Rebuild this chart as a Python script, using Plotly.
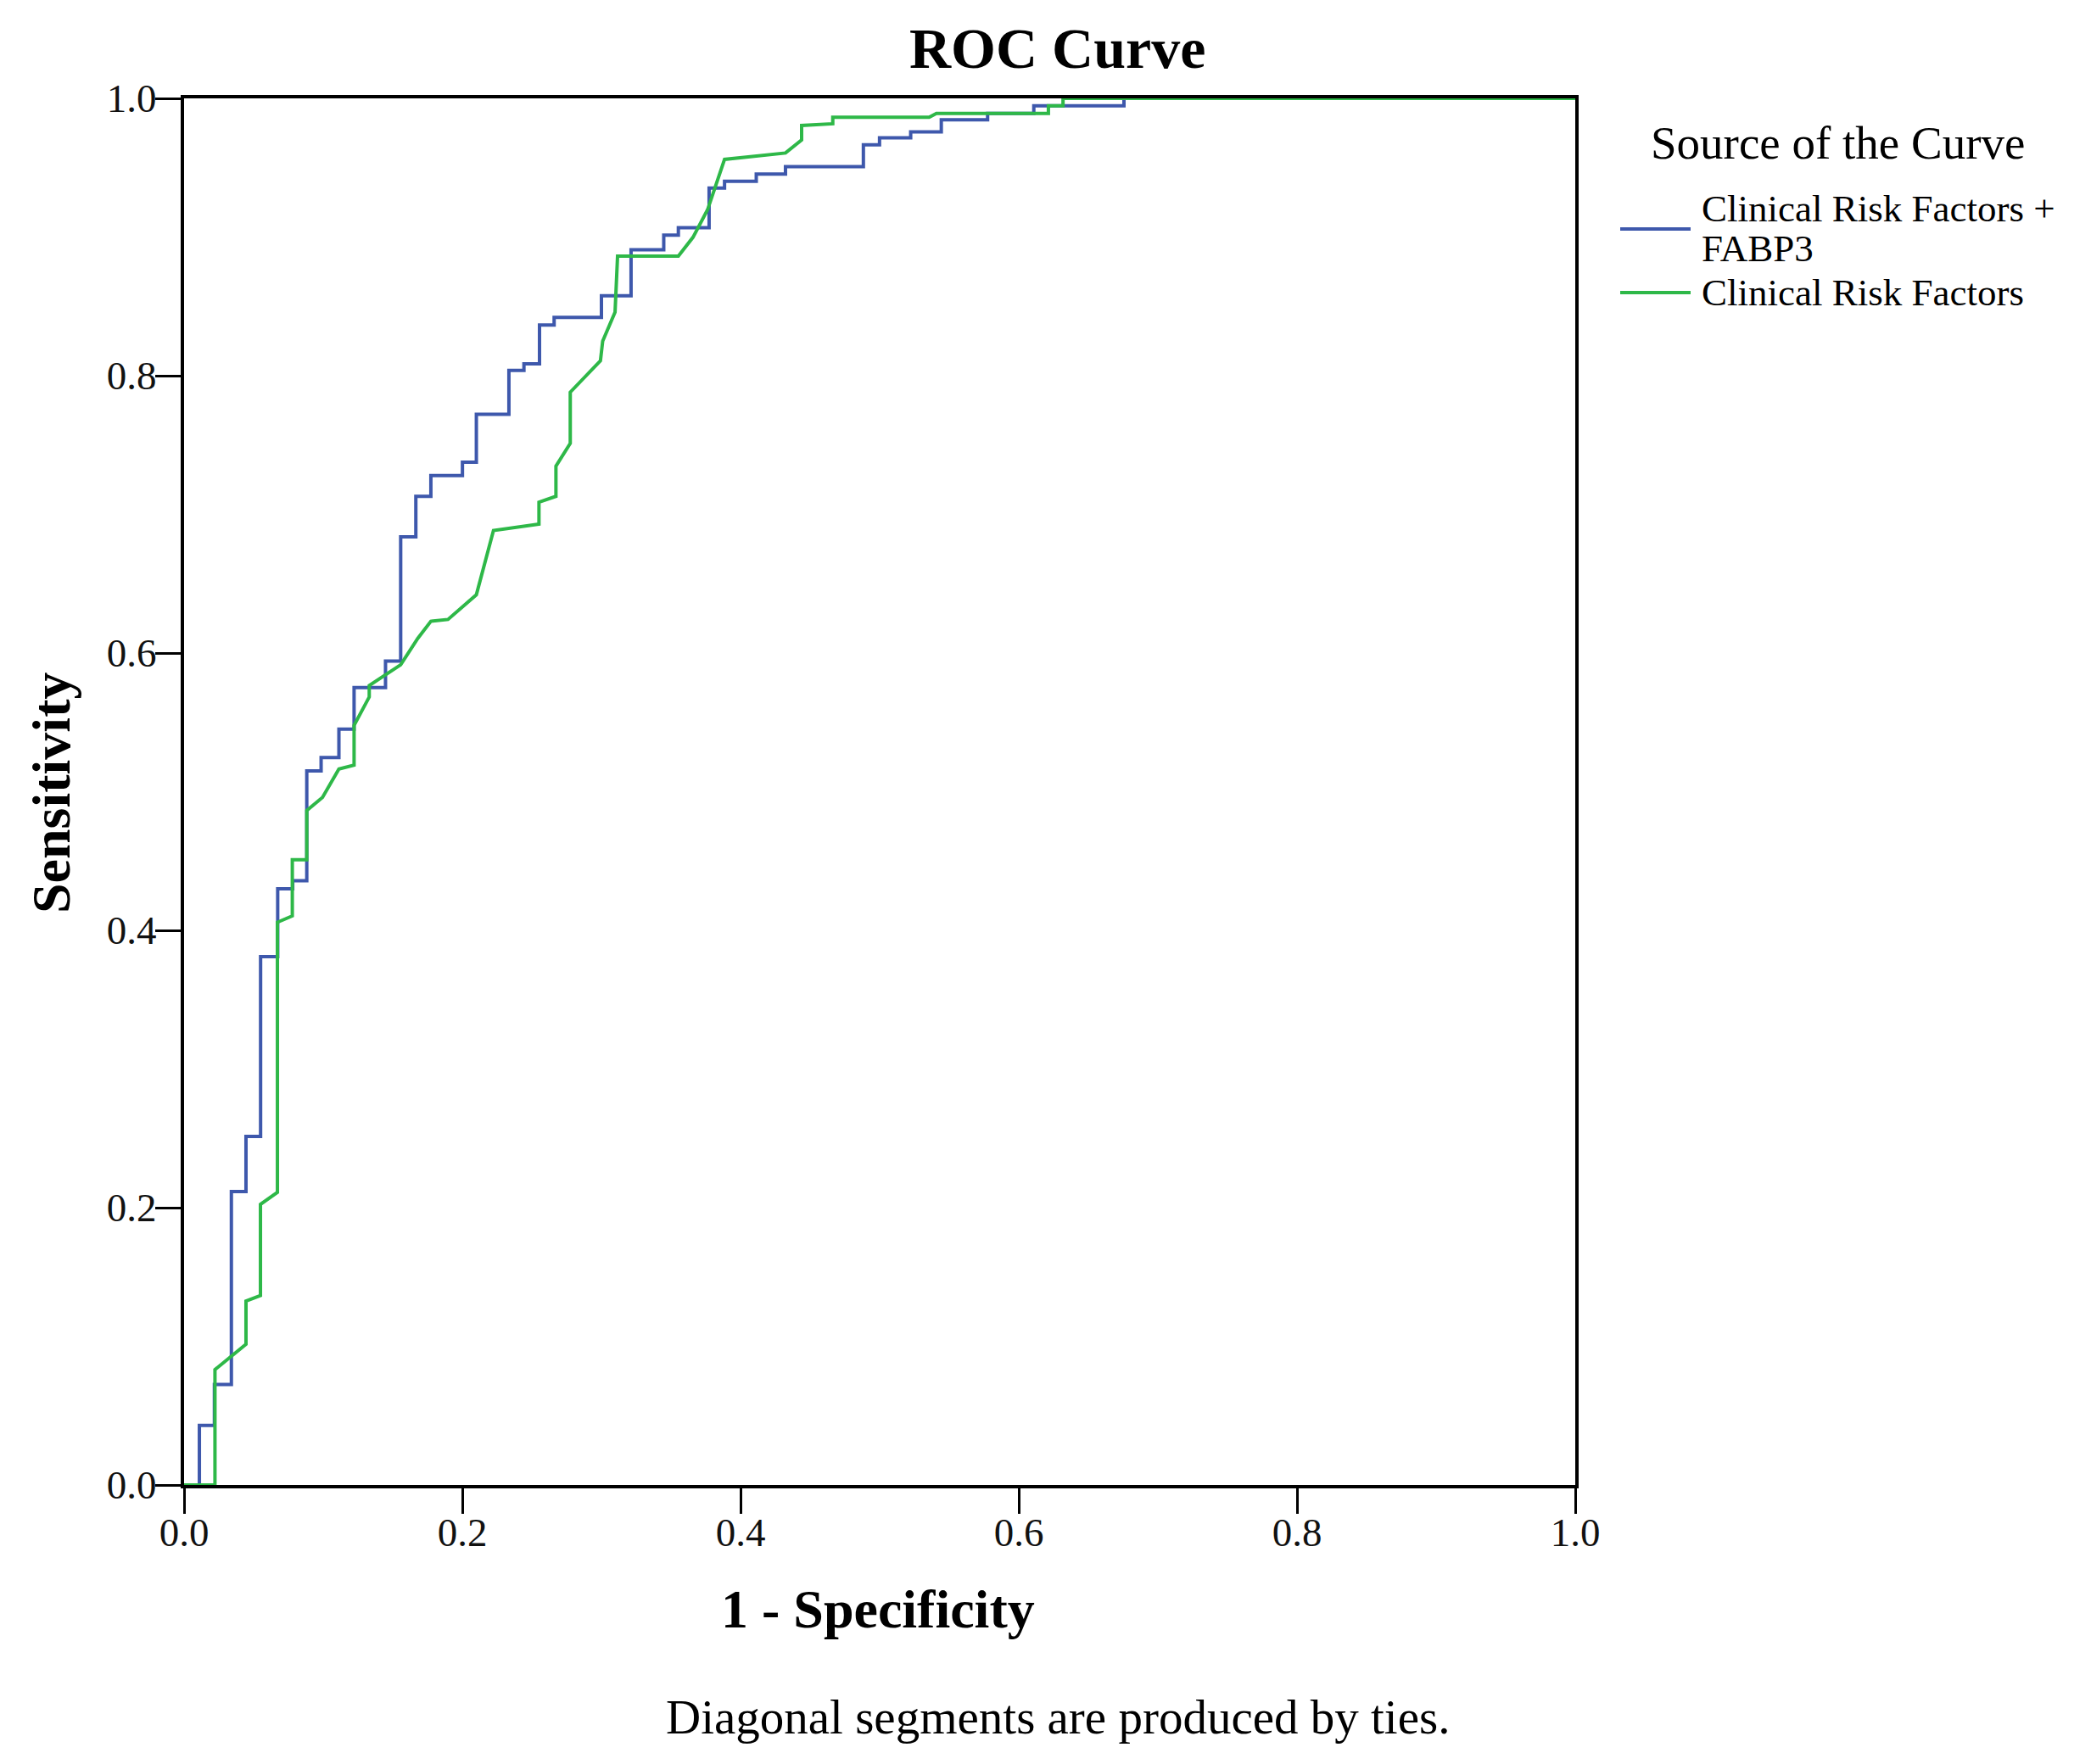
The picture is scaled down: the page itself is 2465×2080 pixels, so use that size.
import plotly.graph_objects as go

# ---- data ----
blue_name = "Clinical Risk Factors + FABP3"
blue_fpr = [0.0, 0.011, 0.0218, 0.034, 0.0445, 0.055, 0.0673, 0.0781, 0.0882, 0.0985,
            0.1113, 0.1222, 0.1448, 0.1557, 0.1666, 0.1774, 0.2001, 0.2101, 0.2335, 0.2443,
            0.2555, 0.2660, 0.3000, 0.3213, 0.3448, 0.3553, 0.3774, 0.3885, 0.4113, 0.4323,
            0.4883, 0.4999, 0.5223, 0.5443, 0.5776, 0.6108, 0.6756, 1.0]
blue_tpr = [0.0, 0.043, 0.0725, 0.2116, 0.2514, 0.381, 0.430, 0.4358, 0.515, 0.5246,
            0.5451, 0.5751, 0.5942, 0.6838, 0.7130, 0.7280, 0.7376, 0.7722, 0.8038, 0.8085,
            0.8366, 0.8420, 0.8576, 0.8909, 0.9014, 0.9068, 0.9353, 0.9402, 0.9454, 0.9508,
            0.9665, 0.9716, 0.9758, 0.9845, 0.9892, 0.9946, 1.0, 1.0]

green_name = "Clinical Risk Factors"
green_fpr = [0.0, 0.0222, 0.0222, 0.0445, 0.0445, 0.0549, 0.0549, 0.0671, 0.0671, 0.0778,
             0.0778, 0.0882, 0.0882, 0.0995, 0.1113, 0.1222, 0.1222, 0.1331, 0.1331, 0.1557,
             0.1680, 0.1774, 0.1897, 0.2101, 0.2224, 0.2551, 0.2551, 0.2673, 0.2673, 0.2776,
             0.2776, 0.2993, 0.3009, 0.3098, 0.3116, 0.3553, 0.3658, 0.3763, 0.3885, 0.4323,
             0.4439, 0.4439, 0.4663, 0.4663, 0.5356, 0.5408, 0.6213, 0.6213, 0.6318, 0.6318, 1.0]
green_tpr = [0.0, 0.0, 0.0832, 0.1015, 0.1327, 0.1367, 0.2024, 0.2110, 0.4058, 0.4104,
             0.4509, 0.4509, 0.4864, 0.4959, 0.5164, 0.5191, 0.5478, 0.5683, 0.5765, 0.5915,
             0.6106, 0.6229, 0.6242, 0.6420, 0.6884, 0.6930, 0.7088, 0.7130, 0.7348, 0.7512,
             0.7881, 0.8108, 0.8249, 0.8459, 0.8862, 0.8862, 0.8998, 0.9197, 0.9560, 0.9606,
             0.9700, 0.9805, 0.9817, 0.9864, 0.9864, 0.9892, 0.9892, 0.9946, 0.9946, 1.0, 1.0]

tick_vals = [0.0, 0.2, 0.4, 0.6, 0.8, 1.0]
tick_text = ["0.0", "0.2", "0.4", "0.6", "0.8", "1.0"]

BLUE = "#3E58AC"
GREEN = "#2EB848"
FONT = "Liberation Serif"

W, H = 2465, 2080
L, R, T, B = 217, 608, 116, 329
pw, ph = W - L - R, H - T - B


def px2paper(x, y):
    return (x - L) / pw, (H - B - y) / ph


fig = go.Figure()
fig.add_trace(go.Scatter(x=blue_fpr, y=blue_tpr, mode="lines", name=blue_name,
                         line=dict(color=BLUE, width=4, shape="hv"), showlegend=False))
fig.add_trace(go.Scatter(x=green_fpr, y=green_tpr, mode="lines", name=green_name,
                         line=dict(color=GREEN, width=4), showlegend=False))

axis_common = dict(range=[0, 1], tickvals=tick_vals, ticktext=tick_text,
                   ticks="outside", ticklen=30, tickwidth=3, tickcolor="black",
                   showgrid=False, zeroline=False, showline=True, linewidth=4,
                   linecolor="black", mirror=True,
                   tickfont=dict(family=FONT, size=47, color="#111111"))
fig.update_xaxes(ticklabelstandoff=-18, **axis_common)
fig.update_yaxes(ticklabelstandoff=-11, **axis_common)

ann = []
# title
x, y = px2paper(1246, 57)
ann.append(dict(text="<b>ROC Curve</b>", x=x, y=y, xref="paper", yref="paper",
                showarrow=False, xanchor="center", yanchor="middle",
                font=dict(family=FONT, size=68, color="black")))
# x title
x, y = px2paper(1035, 1897)
ann.append(dict(text="<b>1 - Specificity</b>", x=x, y=y, xref="paper", yref="paper",
                showarrow=False, xanchor="center", yanchor="middle",
                font=dict(family=FONT, size=64, color="black")))
# y title
x, y = px2paper(60, 935)
ann.append(dict(text="<b>Sensitivity</b>", x=x, y=y, xref="paper", yref="paper",
                showarrow=False, xanchor="center", yanchor="middle", textangle=-90,
                font=dict(family=FONT, size=64, color="black")))
# footnote
x, y = px2paper(1247, 2024)
ann.append(dict(text="Diagonal segments are produced by ties.", x=x, y=y,
                xref="paper", yref="paper", showarrow=False, xanchor="center",
                yanchor="middle", font=dict(family=FONT, size=57, color="black")))
# legend title
x, y = px2paper(2166, 168)
ann.append(dict(text="Source of the Curve", x=x, y=y, xref="paper", yref="paper",
                showarrow=False, xanchor="center", yanchor="middle",
                font=dict(family=FONT, size=55, color="black")))
# legend entries
for txt, py in [("Clinical Risk Factors +", 246), ("FABP3", 293), (green_name, 345)]:
    x, y = px2paper(2004, py)
    ann.append(dict(text=txt, x=x, y=y, xref="paper", yref="paper", showarrow=False,
                    xanchor="left", yanchor="middle",
                    font=dict(family=FONT, size=45, color="black")))

shapes = []
for col, py in [(BLUE, 270), (GREEN, 345)]:
    x0, y0 = px2paper(1910, py)
    x1, _ = px2paper(1993, py)
    shapes.append(dict(type="line", xref="paper", yref="paper", x0=x0, x1=x1, y0=y0, y1=y0,
                       line=dict(color=col, width=4)))

fig.update_layout(width=W, height=H, margin=dict(l=L, r=R, t=T, b=B),
                  paper_bgcolor="white", plot_bgcolor="white",
                  annotations=ann, shapes=shapes, showlegend=False)

fig.write_html("out.html")
